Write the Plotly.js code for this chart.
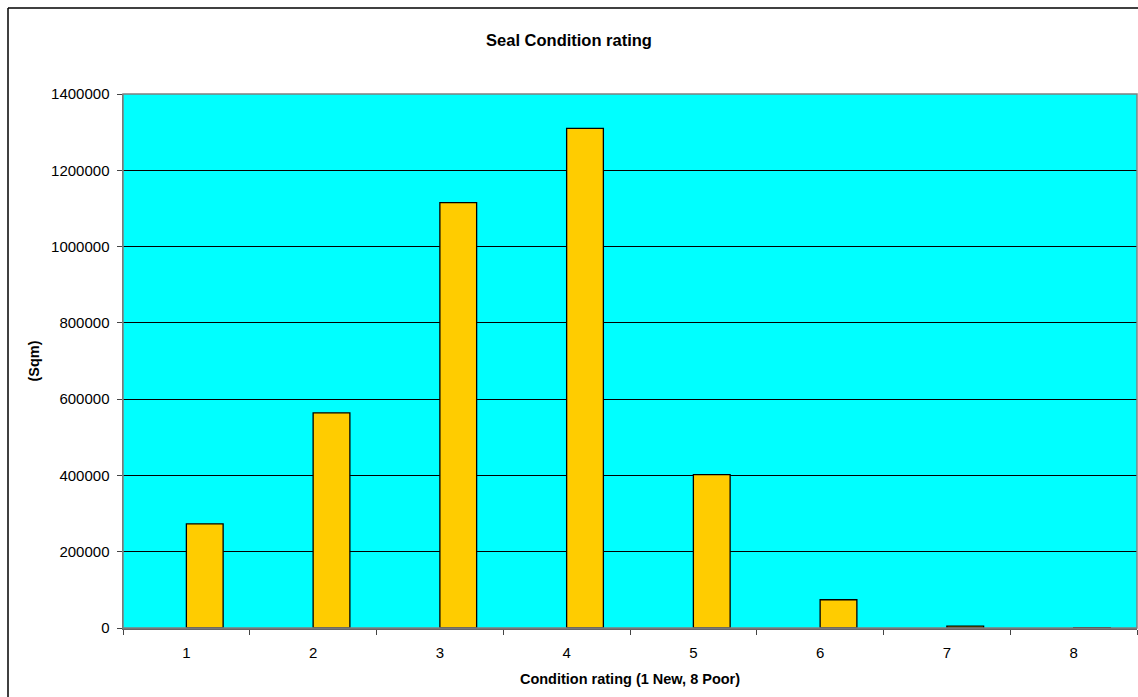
<!DOCTYPE html>
<html>
<head>
<meta charset="utf-8">
<script src="https://cdn.plot.ly/plotly-3.0.1.min.js"></script>
<style>html,body{margin:0;padding:0;background:#fff;}#chart{width:1138px;height:697px;}</style>
</head>
<body>
<div id="chart"></div>
<script>
const categories = ["1", "2", "3", "4", "5", "6", "7", "8"];
const areaSqm = [273000, 564000, 1115000, 1310000, 402000, 74000, 5000, 1000];
const yTicks = [0, 200000, 400000, 600000, 800000, 1000000, 1200000, 1400000];

const trace = {
  type: "bar",
  x: categories,
  y: areaSqm,
  offset: 0,
  width: 0.29,
  marker: {color: "#FFCC00", line: {color: "#000000", width: 1.3}},
  hoverinfo: "x+y"
};

const layout = {
  width: 1138, height: 697,
  margin: {l: 123, r: 1, t: 94, b: 69, pad: 0},
  paper_bgcolor: "#FFFFFF",
  plot_bgcolor: "#00FFFF",
  font: {family: "Liberation Sans, Arial, sans-serif", size: 15, color: "#000"},
  title: {text: "<b>Seal Condition rating</b>", font: {size: 16.5}, x: 0.5, xanchor: "center", y: 0.942, yanchor: "middle"},
  showlegend: false,
  xaxis: {
    type: "category",
    title: {text: "<b>Condition rating (1 New, 8 Poor)</b>", font: {size: 14.5}, standoff: 14},
    showline: true, linecolor: "#666", linewidth: 1.5,
    ticks: "outside", tickson: "boundaries", ticklen: 5, tickcolor: "#444",
    ticklabelstandoff: 10,
    showgrid: false,
    tickfont: {size: 15}
  },
  yaxis: {
    range: [0, 1400000],
    tickvals: yTicks,
    ticktext: yTicks.map(String),
    title: {text: "<b>(Sqm)</b>", font: {size: 14.5}, standoff: 8},
    showline: true, linecolor: "#666", linewidth: 1.5,
    ticks: "outside", ticklen: 5, tickcolor: "#444",
    ticklabelstandoff: 4,
    showgrid: true, gridcolor: "#000", gridwidth: 1,
    zeroline: false,
    tickfont: {size: 15}
  },
  shapes: [
    {type: "rect", xref: "paper", yref: "paper", x0: 0, x1: 1, y0: 0, y1: 1,
     line: {color: "#808080", width: 1.5}, fillcolor: "rgba(0,0,0,0)", layer: "above"},
    {type: "line", xref: "paper", yref: "paper", x0: -115/1014, x1: -115/1014, y0: -1, y1: 620/534, line: {color: "#000", width: 1.5}},
    {type: "line", xref: "paper", yref: "paper", x0: -115/1014, x1: 1.5, y0: 620/534, y1: 620/534, line: {color: "#000", width: 1.5}}
  ]
};

Plotly.newPlot("chart", [trace], layout, {displayModeBar: false, staticPlot: true});
</script>
</body>
</html>
